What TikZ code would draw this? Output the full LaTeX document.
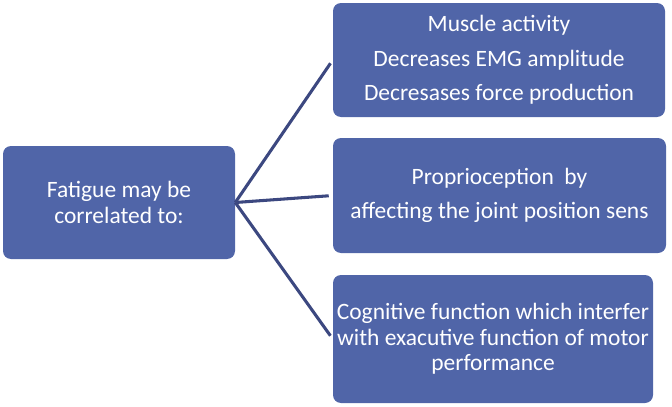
\documentclass[tikz,border=0pt]{standalone}
\usepackage{fontspec}
\setmainfont{Carlito}
\usepackage{tikz}
\definecolor{boxblue}{RGB}{80,101,168}
\definecolor{lineblue}{RGB}{60,72,128}
\tikzset{
  box/.style={shape=rectangle, rounded corners=6pt, fill=boxblue, text=white,
    align=center, inner sep=0pt, font=\fontsize{17.6}{19}\selectfont},
  link/.style={draw=lineblue, line width=2.3pt, shorten >=3pt}
}

\begin{document}
\begin{tikzpicture}[x=0.75pt,y=-0.75pt]
\useasboundingbox (0,0) rectangle (672,407);
\node[box, minimum width=174pt, minimum height=84.75pt] (F) at (119,202.5) {Fatigue may be\\[1pt]correlated to:};
\node[box, minimum width=249pt, minimum height=85.5pt] (A) at (499,60) {Muscle activity\\[7pt]Decreases EMG amplitude\\[7pt]Decresases force production};
\node[box, minimum width=249.75pt, minimum height=86.25pt] (B) at (499.5,195.5) {Proprioception~ by\\[6.5pt]affecting the joint position sens};
\node[box, minimum width=240pt, minimum height=96pt] (C) at (493,339) {Cognitive function which interfer\\with exacutive function of motor\\performance};
\draw [link] (F.east) edge (A.west);
\draw [link] (F.east) edge (B.west);
\draw [link] (F.east) edge (C.west);
\end{tikzpicture}
\end{document}
